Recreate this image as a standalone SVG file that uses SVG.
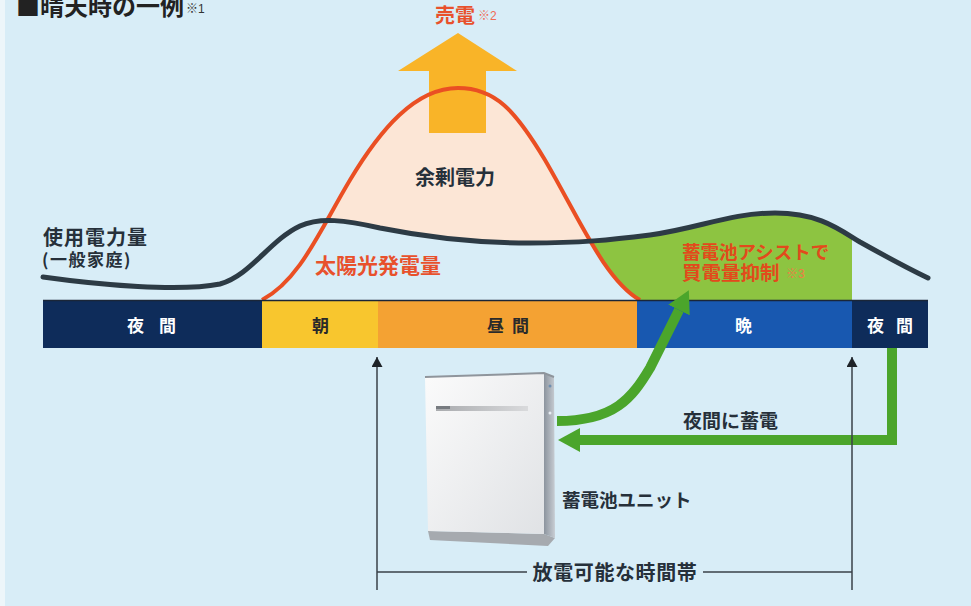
<svg xmlns="http://www.w3.org/2000/svg" width="971" height="606" viewBox="0 0 971 606">
  <style>
    text { font-family: "Noto Sans CJK JP", "Noto Sans", sans-serif; font-weight: 700; }
    .dark { fill: #26303a; }
    .red { fill: #e8512c; }
    .note { font-family: "Liberation Sans", "Noto Sans CJK JP", sans-serif; font-size: 12px; font-weight: 400; }
    .bar-w { fill: #ffffff; font-size: 17px; }
    .bar-d { fill: #2a2a2a; font-size: 17px; }
    .thin { stroke: #3a4048; stroke-width: 1.5; fill: none; }
    .green { stroke: #4ba52b; stroke-width: 10; fill: none; stroke-linejoin: miter; }
  </style>
  <defs>
    <clipPath id="aboveUsage">
      <path d="M0,0 L0,277 L43,277 C100,285 180,292 220,284 C250,276 270,240 300,226 C320,217 345,220 380,228 C430,238 480,243 530,243 C580,243 610,240 650,235 C700,228 730,213 775,213 C820,213 840,230 860,242 C885,256 905,267 928,278 L971,278 L971,0 Z"/>
    </clipPath>
    <clipPath id="belowUsage">
      <path d="M0,400 L0,277 L43,277 C100,285 180,292 220,284 C250,276 270,240 300,226 C320,217 345,220 380,228 C430,238 480,243 530,243 C580,243 610,240 650,235 C700,228 730,213 775,213 C820,213 840,230 860,242 C885,256 905,267 928,278 L971,278 L971,400 Z"/>
    </clipPath>
    <marker id="tip" viewBox="0 0 10 11" refX="10" refY="5.5" markerWidth="10" markerHeight="11" markerUnits="userSpaceOnUse" orient="auto">
      <path d="M0,0 L10,5.5 L0,11 Z" fill="#1e2328"/>
    </marker>
    <marker id="gtip" viewBox="0 0 22 24" refX="0" refY="12" markerWidth="22" markerHeight="24" markerUnits="userSpaceOnUse" orient="auto">
      <path d="M0,0 L22,12 L0,24 Z" fill="#4ba52b"/>
    </marker>
    <linearGradient id="front" x1="0" y1="0" x2="1" y2="1">
      <stop offset="0" stop-color="#fbfbfb"/>
      <stop offset="1" stop-color="#e0e2e5"/>
    </linearGradient>
    <linearGradient id="side" x1="0" y1="0" x2="1" y2="0">
      <stop offset="0" stop-color="#8c949e"/>
      <stop offset="1" stop-color="#c8cdd3"/>
    </linearGradient>
    <linearGradient id="strip" x1="0" y1="0" x2="1" y2="0">
      <stop offset="0" stop-color="#a9abae"/>
      <stop offset="1" stop-color="#d9dadc"/>
    </linearGradient>
  </defs>

  <!-- backdrop -->
  <rect width="971" height="606" fill="#d8edf7"/>
  <rect width="5" height="606" fill="#edf6fa"/>

  <!-- title -->
  <g id="title">
    <text x="16" y="15" font-size="24" fill="#222">■晴天時の一例</text>
    <text x="186" y="13" class="note" fill="#333">※1</text>
  </g>

  <!-- battery-assisted area in the evening -->
  <g id="assist-area">
    <rect x="580" y="200" width="272" height="100" fill="#8dc441" clip-path="url(#belowUsage)"/>
  </g>

  <!-- solar generation hill -->
  <g id="solar">
    <path d="M262,300 C300,280 320,230 350,180 C380,130 415,88 458,88 C495,88 515,110 545,160 C580,220 605,280 640,300 Z" fill="#d8edf7"/>
    <path d="M262,300 C300,280 320,230 350,180 C380,130 415,88 458,88 C495,88 515,110 545,160 C580,220 605,280 640,300 Z" fill="#fce6d6" clip-path="url(#aboveUsage)"/>
  </g>

  <!-- selling arrow -->
  <g id="sell">
    <path d="M429,133 L429,71 L398,71 L458,33 L517,71 L486,71 L486,133 Z" fill="#f9b428"/>
    <text x="435" y="23" font-size="20" class="red">売電</text>
    <text x="478" y="20" class="note" fill="#ef6a55">※2</text>
  </g>

  <g id="solar-line">
    <path d="M262,300 C300,280 320,230 350,180 C380,130 415,88 458,88 C495,88 515,110 545,160 C580,220 605,280 640,300" fill="none" stroke="#ea4f23" stroke-width="4"/>
  </g>

  <!-- household consumption -->
  <g id="usage">
    <path d="M43,277 C100,285 180,292 220,284 C250,276 270,240 300,226 C320,217 345,220 380,228 C430,238 480,243 530,243 C580,243 610,240 650,235 C700,228 730,213 775,213 C820,213 840,230 860,242 C885,256 905,267 928,278" fill="none" stroke="#2d3b45" stroke-width="5" stroke-linecap="round"/>
  </g>

  <!-- time of day bar -->
  <g id="timebar">
    <rect x="43" y="300" width="219" height="48" fill="#0e2c5a"/>
    <rect x="262" y="300" width="116" height="48" fill="#f8c62e"/>
    <rect x="378" y="300" width="259" height="48" fill="#f4a233"/>
    <rect x="637" y="300" width="215" height="48" fill="#1858b0"/>
    <rect x="852" y="300" width="76" height="48" fill="#0e2c5a"/>
    <line x1="43" y1="300.5" x2="928" y2="300.5" stroke="#1a2638" stroke-width="1.5"/>
    <text x="127" y="332" class="bar-w" letter-spacing="15">夜間</text>
    <text x="312" y="332" class="bar-d">朝</text>
    <text x="487" y="332" class="bar-d" letter-spacing="8">昼間</text>
    <text x="735" y="332" class="bar-w">晩</text>
    <text x="867" y="332" class="bar-w" letter-spacing="12">夜間</text>
  </g>

  <!-- labels -->
  <g id="labels">
    <text x="415" y="185" font-size="20" class="dark">余剰電力</text>
    <text x="315" y="273" font-size="21" class="red">太陽光発電量</text>
    <text x="43" y="245" font-size="20" letter-spacing="1" class="dark">使用電力量</text>
    <text x="42" y="266" font-size="17" letter-spacing="1.5" class="dark">(一般家庭)</text>
    <text x="682" y="259" font-size="18.5" fill="#e24a1c">蓄電池アシストで</text>
    <text x="682" y="280" font-size="19.5" fill="#e24a1c">買電量抑制</text>
    <text x="786" y="278" class="note" fill="#f07a45">※3</text>
    <text x="683" y="428" font-size="19" class="dark">夜間に蓄電</text>
    <text x="562" y="507" font-size="18.5" class="dark">蓄電池ユニット</text>
    <text x="615" y="580" font-size="20" letter-spacing="0.6" text-anchor="middle" class="dark">放電可能な時間帯</text>
  </g>

  <!-- storage battery unit -->
  <g id="battery">
    <path d="M428,531 L544,534 L555,538 L548,546 L430,540 Z" fill="#a6aaaf"/>
    <path d="M425,377 L544,373 L544,534 L428,531 Z" fill="url(#front)"/>
    <path d="M544,373 L554,377 L555,538 L544,534 Z" fill="url(#side)"/>
    <path d="M425,377 L544,373 L554,377" fill="none" stroke="#8f959c" stroke-width="2"/>
    <rect x="436" y="406" width="92" height="5" fill="url(#strip)"/>
    <rect x="436" y="406" width="14" height="3" fill="#777b80"/>
    <circle cx="550" cy="386" r="1.5" fill="#6f8fb0"/>
    <circle cx="550" cy="413" r="1.5" fill="#e8eef4"/>
  </g>

  <!-- connectors -->
  <g id="connectors">
    <path class="green" d="M557,421 C615,421 632,398 650,368 L679,310" marker-end="url(#gtip)"/>
    <path class="green" d="M892,348 L892,440 L580,440" stroke-width="9" marker-end="url(#gtip)"/>
    <line class="thin" x1="377" y1="590" x2="377" y2="357" marker-end="url(#tip)"/>
    <line class="thin" x1="852" y1="590" x2="852" y2="357" marker-end="url(#tip)"/>
    <line class="thin" x1="377" y1="572" x2="527" y2="572"/>
    <line class="thin" x1="703" y1="572" x2="852" y2="572"/>
  </g>
</svg>
